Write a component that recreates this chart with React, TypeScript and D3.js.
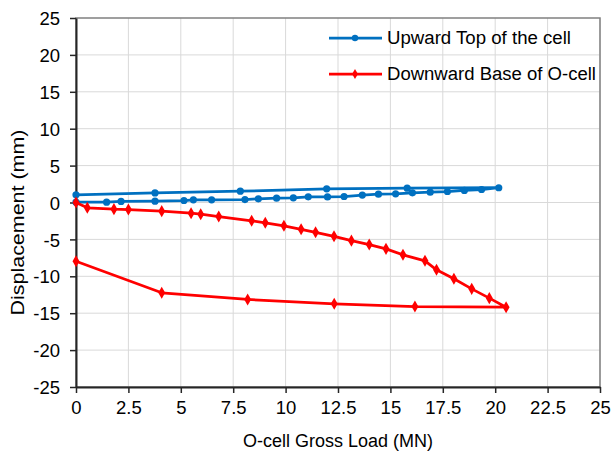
import React, { useRef, useEffect } from 'react';
import * as d3 from 'd3';

// O-cell test: load (MN) vs displacement (mm), loading then unloading
const upwardLoad = [0, 1.46, 2.15, 3.77, 5.15, 5.6, 6.47, 8.06, 8.7, 9.57, 10.37, 11.08, 12.0, 12.79, 13.66, 14.43, 15.25, 16.05, 16.9, 17.72, 18.53, 19.35, 20.17, 15.8, 11.96, 7.84, 3.77, 0];
const upwardDisp = [0.04, 0.04, 0.14, 0.18, 0.27, 0.36, 0.36, 0.4, 0.5, 0.59, 0.63, 0.77, 0.75, 0.81, 1.0, 1.13, 1.18, 1.31, 1.4, 1.49, 1.63, 1.76, 2.0, 1.94, 1.85, 1.53, 1.3, 1.04];

const downwardLoad = [0, 0.54, 1.81, 2.5, 4.09, 5.49, 5.95, 6.81, 8.38, 9.03, 9.92, 10.74, 11.43, 12.31, 13.14, 13.99, 14.79, 15.6, 16.65, 17.2, 18.03, 18.88, 19.72, 20.52, 16.17, 12.32, 8.19, 4.09, 0];
const downwardDisp = [0, -0.72, -0.9, -0.95, -1.17, -1.45, -1.58, -1.9, -2.48, -2.75, -3.16, -3.63, -4.04, -4.58, -5.17, -5.7, -6.28, -7.09, -7.9, -9.12, -10.34, -11.7, -12.96, -14.19, -14.1, -13.73, -13.14, -12.24, -7.95];

const xTicks = [0, 2.5, 5, 7.5, 10, 12.5, 15, 17.5, 20, 22.5, 25];
const yTicks = [25, 20, 15, 10, 5, 0, -5, -10, -15, -20, -25];

const series = [
  { name: 'Upward Top of the cell', color: '#0070C0', marker: 'circle', xs: upwardLoad, ys: upwardDisp },
  { name: 'Downward Base of O-cell', color: '#FF0000', marker: 'diamond', xs: downwardLoad, ys: downwardDisp },
];

const App = () => {
  const chartRef = useRef<SVGSVGElement>(null);

  useEffect(() => {
    const svg = d3.select(chartRef.current);
    svg.selectAll('*').remove();

    const margin = { top: 18, right: 13, bottom: 74, left: 76 };
    const width = 613 - margin.left - margin.right;
    const height = 461 - margin.top - margin.bottom;
    const font = 'Arial, "Liberation Sans", sans-serif';

    const g = svg.append('g').attr('transform', `translate(${margin.left},${margin.top})`);

    const xScale = d3.scaleLinear().domain([0, 25]).range([0, width]);
    const yScale = d3.scaleLinear().domain([-25, 25]).range([height, 0]);

    // gridlines
    g.append('g')
      .selectAll('line')
      .data(xTicks.slice(1))
      .join('line')
      .attr('x1', (d) => xScale(d))
      .attr('x2', (d) => xScale(d))
      .attr('y1', 0)
      .attr('y2', height)
      .attr('stroke', '#d9d9d9')
      .attr('stroke-width', 1);
    g.append('g')
      .selectAll('line')
      .data(yTicks.slice(1, -1))
      .join('line')
      .attr('x1', 0)
      .attr('x2', width)
      .attr('y1', (d) => yScale(d))
      .attr('y2', (d) => yScale(d))
      .attr('stroke', '#d9d9d9')
      .attr('stroke-width', 1);

    // frame (top / right)
    g.append('rect')
      .attr('x', 0)
      .attr('y', 0)
      .attr('width', width)
      .attr('height', height)
      .attr('fill', 'none')
      .attr('stroke', '#808080')
      .attr('stroke-width', 1.5);

    // axes
    const xAxis = d3.axisBottom(xScale).tickValues(xTicks).tickSize(6).tickSizeOuter(0).tickFormat((d) => String(d));
    const yAxis = d3.axisLeft(yScale).tickValues(yTicks).tickSize(6).tickSizeOuter(0).tickFormat((d) => String(d));

    const gx = g.append('g').attr('transform', `translate(0,${height})`).call(xAxis);
    const gy = g.append('g').call(yAxis);
    [gx, gy].forEach((a) => {
      a.select('.domain').attr('stroke', '#262626').attr('stroke-width', 2);
      a.selectAll('.tick line').attr('stroke', '#262626').attr('stroke-width', 1.5);
      a.selectAll('.tick text').attr('fill', '#000').style('font-family', font).style('font-size', '18.5px');
    });
    gx.selectAll('.tick text').attr('y', 8).attr('dy', '1em');
    gy.selectAll('.tick text').attr('x', -16).attr('dy', '0.36em');

    // lines and markers
    const diamond = d3.symbol().type(d3.symbolDiamond).size(42);
    series.forEach((s) => {
      const pts = s.xs.map((x, i) => [x, s.ys[i]] as [number, number]);
      const line = d3.line<[number, number]>().x((d) => xScale(d[0])).y((d) => yScale(d[1]));
      g.append('path')
        .datum(pts)
        .attr('d', line)
        .attr('fill', 'none')
        .attr('stroke', s.color)
        .attr('stroke-width', 2.75)
        .attr('stroke-linejoin', 'round');
      if (s.marker === 'circle') {
        g.append('g')
          .selectAll('circle')
          .data(pts)
          .join('circle')
          .attr('cx', (d) => xScale(d[0]))
          .attr('cy', (d) => yScale(d[1]))
          .attr('r', 3.6)
          .attr('fill', s.color);
      } else {
        g.append('g')
          .selectAll('path')
          .data(pts)
          .join('path')
          .attr('d', diamond)
          .attr('transform', (d) => `translate(${xScale(d[0])},${yScale(d[1])})`)
          .attr('fill', s.color);
      }
    });

    // legend
    const legend = svg.append('g').attr('transform', 'translate(329,38)');
    series.forEach((s, i) => {
      const row = legend.append('g').attr('transform', `translate(0,${i * 36})`);
      row.append('line').attr('x1', 0).attr('x2', 53).attr('y1', 0).attr('y2', 0).attr('stroke', s.color).attr('stroke-width', 2.75);
      if (s.marker === 'circle') {
        row.append('circle').attr('cx', 26).attr('cy', 0).attr('r', 3.2).attr('fill', s.color);
      } else {
        row.append('path').attr('d', d3.symbol().type(d3.symbolDiamond).size(30)).attr('transform', 'translate(26,0)').attr('fill', s.color);
      }
      row.append('text')
        .attr('x', 58)
        .attr('y', 0)
        .attr('dy', '0.36em')
        .attr('textLength', i === 0 ? 184 : 209)
        .attr('lengthAdjust', 'spacingAndGlyphs')
        .style('font-family', font)
        .style('font-size', '18px')
        .text(s.name);
    });

    // axis titles
    svg.append('text')
      .attr('x', margin.left + width / 2)
      .attr('y', 447)
      .attr('text-anchor', 'middle')
      .style('font-family', font)
      .style('font-size', '18px')
      .text('O-cell Gross Load (MN)');
    svg.append('text')
      .attr('transform', `translate(24,${margin.top + height / 2 + 20}) rotate(-90)`)
      .attr('text-anchor', 'middle')
      .attr('textLength', 186)
      .attr('lengthAdjust', 'spacingAndGlyphs')
      .style('font-family', font)
      .style('font-size', '18px')
      .text('Displacement (mm)');
  }, []);

  return <svg ref={chartRef} width={613} height={461} style={{ display: 'block', position: 'absolute', left: 0, top: 0 }}></svg>;
};

export default App;
